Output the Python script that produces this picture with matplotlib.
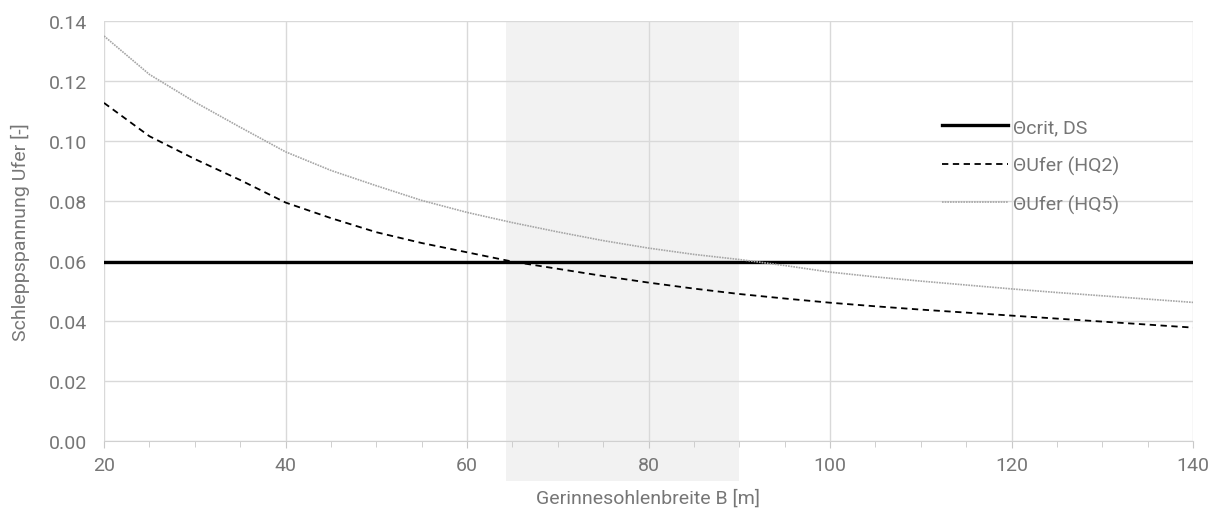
import matplotlib
matplotlib.use("Agg")
from matplotlib import pyplot as plt
from matplotlib.ticker import MultipleLocator

# Gerinnesohlenbreite B [m]
breite = [20, 25, 30, 35, 40, 45, 50, 55, 60, 65, 70, 75, 80,
          85, 90, 95, 100, 105, 110, 115, 120, 125, 130, 135, 140]
theta_hq2 = [0.1127, 0.1016, 0.0940, 0.0870, 0.0795, 0.0743, 0.0696, 0.0660, 0.0629,
             0.0598, 0.0574, 0.0550, 0.0528, 0.0508, 0.0490, 0.0475, 0.0461, 0.0449,
             0.0438, 0.0428, 0.0418, 0.0408, 0.0398, 0.0388, 0.0378]
theta_hq5 = [0.1350, 0.1222, 0.1130, 0.1046, 0.0964, 0.0902, 0.0851, 0.0802, 0.0762,
             0.0728, 0.0697, 0.0668, 0.0643, 0.0622, 0.0605, 0.0585, 0.0563, 0.0547,
             0.0533, 0.0520, 0.0507, 0.0495, 0.0484, 0.0473, 0.0462]
theta_crit = 0.0597
bereich = (64.3, 90.0)

grey = "#767676"
plt.rcParams["font.family"] = ["Roboto", "DejaVu Sans"]

fig = plt.figure(figsize=(12.17, 5.10), dpi=100)
ax = fig.add_axes([104 / 1217, 1 - 442 / 510, 1089 / 1217, 420 / 510])

ax.axvspan(bereich[0], bereich[1], ymin=-40 / 420, ymax=1, color="#f2f2f2",
           lw=0, zorder=0, clip_on=False)

ax.axhline(theta_crit, color="black", lw=2.4, label="\u0398crit, DS", zorder=3)
ax.plot(breite, theta_hq2, color="black", lw=1.3, ls=(0, (3.5, 2.5)),
        label="\u0398Ufer (HQ2)", zorder=3)
ax.plot(breite, theta_hq5, color="#a6a6a6", lw=1.2, ls=(0, (1, 0.6)),
        label="\u0398Ufer (HQ5)", zorder=3)

ax.set_xlim(20, 140)
ax.set_ylim(0, 0.14)
ax.xaxis.set_major_locator(MultipleLocator(20))
ax.xaxis.set_minor_locator(MultipleLocator(5))
ax.yaxis.set_major_locator(MultipleLocator(0.02))
ax.yaxis.set_major_formatter(lambda v, p: f"{v:.2f}")

ax.grid(True, color="#d9d9d9", lw=1, zorder=1)
ax.set_axisbelow(True)
for s in ["top", "right", "left"]:
    ax.spines[s].set_visible(False)
ax.spines["bottom"].set_color("#d0d0d0")
ax.tick_params(axis="x", which="both", direction="out", color="#c8c8c8",
               labelcolor=grey, labelsize=14, pad=6)
ax.tick_params(axis="x", which="major", length=5)
ax.tick_params(axis="x", which="minor", length=4)
ax.tick_params(axis="y", length=0, labelcolor=grey, labelsize=14, pad=12)

ax.set_xlabel("Gerinnesohlenbreite B [m]", color=grey, fontsize=14, labelpad=10)
ax.set_ylabel("Schleppspannung Ufer [-]", color=grey, fontsize=14, labelpad=14)

leg = ax.legend(loc="upper left", bbox_to_anchor=(0.753, 0.81), frameon=False,
                fontsize=14, handlelength=3.4, handletextpad=0.3,
                labelspacing=1.0)
for t in leg.get_texts():
    t.set_color(grey)

fig.savefig("out.png", dpi=100)
